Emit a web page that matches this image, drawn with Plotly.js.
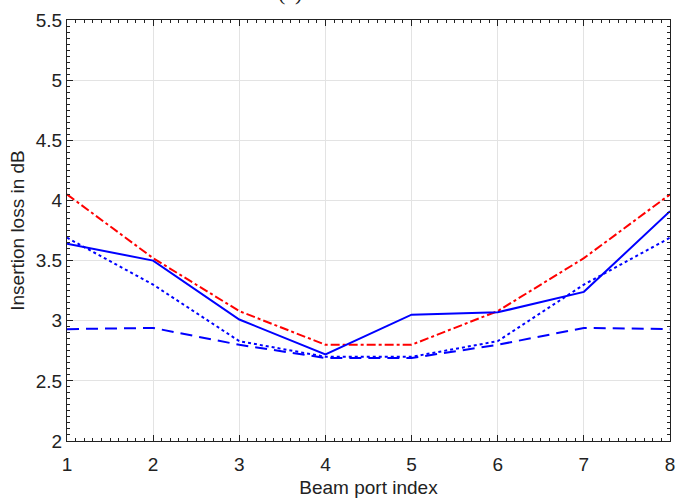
<!DOCTYPE html>
<html><head><meta charset="utf-8">
<script src="https://cdn.plot.ly/plotly-3.0.1.min.js"></script>
<style>html,body{margin:0;padding:0;background:#fff}</style>
</head><body>
<div id="chart" style="width:678px;height:501px"></div>
<script>
const ports = [1, 2, 3, 4, 5, 6, 7, 8];
const redDashDot = [4.05, 3.52, 3.08, 2.80, 2.80, 3.08, 3.52, 4.05];
const blueSolid  = [3.64, 3.50, 3.01, 2.72, 3.05, 3.07, 3.24, 3.91];
const blueDot    = [3.69, 3.30, 2.83, 2.70, 2.70, 2.83, 3.30, 3.69];
const blueDash   = [2.93, 2.94, 2.80, 2.69, 2.69, 2.80, 2.94, 2.93];

const traces = [
  {x: ports, y: blueDash, mode: 'lines', line: {color: '#0000ff', width: 2, dash: '12px,7px'}},
  {x: ports, y: blueDot, mode: 'lines', line: {color: '#0000ff', width: 2, dash: 'dot'}},
  {x: ports, y: redDashDot, mode: 'lines', line: {color: '#ff0000', width: 2, dash: 'dashdot'}},
  {x: ports, y: blueSolid, mode: 'lines', line: {color: '#0000ff', width: 2}}
];

const tickFont = {family: 'Liberation Sans, Arial, sans-serif', size: 19, color: '#222'};
const titleFont = {family: 'Liberation Sans, Arial, sans-serif', size: 19, color: '#222'};

const axisCommon = {
  showline: true, linecolor: '#222', linewidth: 1, mirror: 'ticks',
  ticks: 'inside', ticklen: 6, tickcolor: '#222',
  showgrid: true, gridcolor: '#e3e3e3', gridwidth: 1, zeroline: false,
  tickfont: tickFont
};

const layout = {
  width: 678, height: 501,
  margin: {l: 67, r: 8, t: 20, b: 60},
  paper_bgcolor: '#fff', plot_bgcolor: '#fff',
  showlegend: false,
  xaxis: Object.assign({}, axisCommon, {
    range: [1, 8], dtick: 1, tick0: 1, ticklabelstandoff: 6,
    minor: {dtick: 0.1, ticks: 'inside', ticklen: 3, tickcolor: '#222', showgrid: false},
    title: {text: 'Beam port index', font: titleFont, standoff: 6}
  }),
  yaxis: Object.assign({}, axisCommon, {
    range: [2, 5.5], dtick: 0.5, tick0: 2, ticklabelstandoff: 0,
    minor: {dtick: 0.05, ticks: 'inside', ticklen: 3, tickcolor: '#222', showgrid: false},
    title: {text: 'Insertion loss in dB', font: titleFont, standoff: 6}
  }),
  annotations: [{
    text: '(a)', xref: 'paper', yref: 'paper', x: 0.37, y: 1.03,
    xanchor: 'center', yanchor: 'bottom', showarrow: false,
    font: {family: 'Liberation Serif, Times New Roman, serif', size: 22, color: '#222'}
  }]
};

Plotly.newPlot('chart', traces, layout, {displayModeBar: false, staticPlot: true});
</script>
</body></html>
